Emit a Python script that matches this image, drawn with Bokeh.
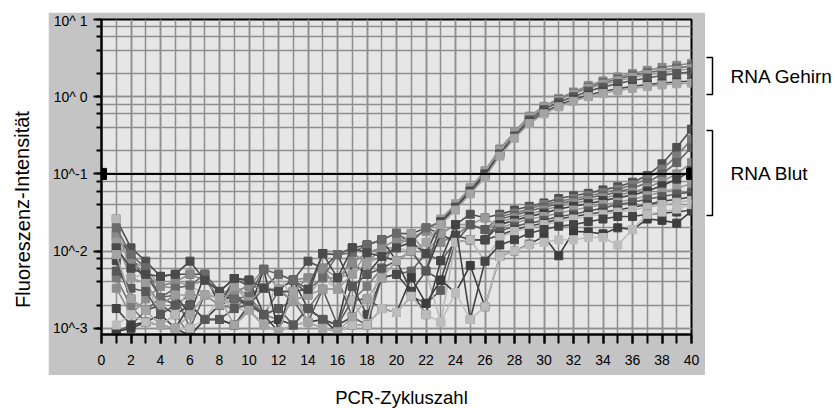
from bokeh.plotting import figure
from bokeh.layouts import row, column
from bokeh.models import (Span, Range1d, Spacer, SingleIntervalTicker, LogTicker,
                          CustomJSTickFormatter)
from bokeh.core.properties import value
from bokeh.embed import file_html
from bokeh.resources import INLINE

# ---------------- data ----------------
cycles = list(range(1, 41))
threshold = 0.1

# RNA Gehirn (brain) curves
brain_1 = [0.016, 0.0075, 0.005, 0.0035, 0.004, 0.005, 0.0042, 0.0025, 0.003, 0.0035,
           0.0033, 0.003, 0.003, 0.0045, 0.006, 0.0045, 0.007, 0.0095, 0.011, 0.014,
           0.015, 0.018, 0.025, 0.040, 0.066, 0.11, 0.21, 0.35, 0.56, 0.75,
           0.95, 1.15, 1.4, 1.6, 1.8, 2.0, 2.2, 2.4, 2.55, 2.7]
brain_2 = [0.02, 0.009, 0.006, 0.0025, 0.0033, 0.0036, 0.005, 0.003, 0.0024, 0.0026,
           0.0058, 0.005, 0.0042, 0.0032, 0.0045, 0.009, 0.0095, 0.012, 0.014, 0.017,
           0.013, 0.02, 0.024, 0.038, 0.062, 0.10, 0.19, 0.33, 0.53, 0.72,
           0.92, 1.1, 1.32, 1.52, 1.7, 1.9, 2.05, 2.2, 2.35, 2.5]
brain_3 = [0.013, 0.0045, 0.0038, 0.002, 0.0027, 0.0027, 0.0027, 0.002, 0.0035, 0.0022,
           0.0033, 0.0032, 0.0023, 0.0027, 0.0032, 0.0032, 0.005, 0.007, 0.0085, 0.011,
           0.0167, 0.0093, 0.026, 0.041, 0.066, 0.11, 0.20, 0.34, 0.54, 0.73,
           0.9, 1.08, 1.28, 1.45, 1.6, 1.78, 1.92, 2.05, 2.2, 2.3]
brain_4 = [0.0055, 0.0033, 0.003, 0.0015, 0.002, 0.002, 0.0013, 0.0013, 0.0018, 0.002,
           0.0015, 0.0018, 0.0011, 0.0018, 0.0013, 0.0011, 0.0035, 0.005, 0.006, 0.0075,
           0.01, 0.0055, 0.023, 0.036, 0.058, 0.095, 0.18, 0.31, 0.5, 0.68,
           0.85, 1.0, 1.18, 1.33, 1.48, 1.62, 1.75, 1.88, 2.0, 2.1]
brain_5 = [0.011, 0.006, 0.005, 0.0047, 0.005, 0.0074, 0.0042, 0.003, 0.0044, 0.0042,
           0.0033, 0.003, 0.003, 0.0032, 0.0093, 0.0045, 0.011, 0.0095, 0.0085, 0.011,
           0.013, 0.0093, 0.024, 0.037, 0.060, 0.10, 0.18, 0.30, 0.47, 0.63,
           0.78, 0.92, 1.05, 1.17, 1.27, 1.36, 1.44, 1.5, 1.55, 1.6]
brain_6 = [0.009, 0.0024, 0.0017, 0.0011, 0.001, 0.0015, 0.0027, 0.0025, 0.0011, 0.0017,
           0.0011, 0.0009, 0.003, 0.0012, 0.001, 0.0009, 0.0014, 0.0024, 0.0045, 0.0075,
           0.01, 0.013, 0.022, 0.034, 0.055, 0.09, 0.17, 0.29, 0.45, 0.6,
           0.74, 0.87, 1.0, 1.1, 1.2, 1.28, 1.35, 1.42, 1.47, 1.5]

# RNA Blut (blood) curves
blood_1 = [0.026, 0.011, 0.0074, 0.0047, 0.005, 0.005, 0.005, 0.003, 0.0044, 0.0035,
           0.0033, 0.005, 0.0042, 0.0074, 0.006, 0.009, 0.011, 0.012, 0.014, 0.017,
           0.0167, 0.02, 0.0167, 0.022, 0.03, 0.027, 0.030, 0.034, 0.038, 0.042,
           0.048, 0.052, 0.056, 0.062, 0.068, 0.078, 0.095, 0.135, 0.22, 0.38]
blood_2 = [0.0045, 0.0019, 0.0012, 0.0011, 0.0015, 0.0008, 0.0013, 0.002, 0.0018, 0.0026,
           0.0015, 0.0013, 0.0023, 0.0018, 0.0032, 0.0032, 0.0023, 0.0035, 0.006, 0.014,
           0.013, 0.0093, 0.013, 0.016, 0.022, 0.019, 0.028, 0.031, 0.035, 0.040,
           0.044, 0.048, 0.052, 0.057, 0.063, 0.072, 0.086, 0.115, 0.17, 0.28]
blood_3 = [0.0009, 0.0011, 0.0017, 0.0025, 0.0027, 0.001, 0.0027, 0.0025, 0.0024, 0.002,
           0.0015, 0.003, 0.0023, 0.0027, 0.0045, 0.0045, 0.0014, 0.0011, 0.0045, 0.005,
           0.0055, 0.0093, 0.0075, 0.013, 0.014, 0.014, 0.026, 0.029, 0.033, 0.037,
           0.041, 0.045, 0.049, 0.053, 0.058, 0.065, 0.077, 0.10, 0.14, 0.22]
blood_4 = [0.0033, 0.0015, 0.0024, 0.0035, 0.0033, 0.0036, 0.0042, 0.003, 0.003, 0.0035,
           0.0058, 0.0032, 0.0042, 0.0045, 0.006, 0.0032, 0.0095, 0.007, 0.011, 0.011,
           0.013, 0.02, 0.013, 0.016, 0.022, 0.019, 0.024, 0.027, 0.030, 0.034,
           0.038, 0.042, 0.045, 0.049, 0.053, 0.058, 0.066, 0.08, 0.10, 0.14]
blood_5 = [0.0018, 0.0011, 0.0012, 0.0015, 0.001, 0.002, 0.0013, 0.002, 0.003, 0.0017,
           0.0011, 0.0013, 0.0011, 0.0018, 0.0013, 0.0011, 0.007, 0.005, 0.0085, 0.0075,
           0.01, 0.0055, 0.0167, 0.013, 0.014, 0.014, 0.022, 0.025, 0.028, 0.031,
           0.035, 0.038, 0.041, 0.045, 0.049, 0.053, 0.060, 0.070, 0.085, 0.11]
blood_6 = [0.013, 0.0075, 0.006, 0.0035, 0.004, 0.0036, 0.0042, 0.0025, 0.0035, 0.0026,
           0.0033, 0.003, 0.003, 0.0032, 0.0045, 0.0045, 0.005, 0.0095, 0.011, 0.011,
           0.0167, 0.0093, 0.0167, 0.022, 0.022, 0.027, 0.020, 0.023, 0.026, 0.028,
           0.031, 0.034, 0.037, 0.040, 0.043, 0.047, 0.052, 0.058, 0.065, 0.075]
blood_7 = [0.011, 0.006, 0.005, 0.0025, 0.002, 0.0027, 0.0027, 0.002, 0.0024, 0.0022,
           0.0015, 0.0018, 0.0023, 0.0012, 0.0032, 0.0011, 0.0023, 0.0024, 0.0018, 0.0016,
           0.0026, 0.0021, 0.0031, 0.013, 0.022, 0.019, 0.018, 0.021, 0.023, 0.025,
           0.028, 0.030, 0.033, 0.036, 0.040, 0.043, 0.047, 0.051, 0.055, 0.058]
blood_8 = [0.016, 0.009, 0.0038, 0.002, 0.0015, 0.002, 0.0013, 0.0013, 0.0011, 0.002,
           0.0033, 0.0032, 0.0042, 0.0027, 0.0093, 0.009, 0.0035, 0.0015, 0.0045, 0.005,
           0.003, 0.0055, 0.0042, 0.016, 0.014, 0.014, 0.016, 0.019, 0.021, 0.023,
           0.026, 0.028, 0.030, 0.032, 0.034, 0.037, 0.040, 0.044, 0.047, 0.05]
blood_9 = [0.026, 0.0045, 0.005, 0.0011, 0.0015, 0.0036, 0.0027, 0.003, 0.0018, 0.0017,
           0.0011, 0.005, 0.0023, 0.0027, 0.0045, 0.0032, 0.0023, 0.0011, 0.0085, 0.011,
           0.01, 0.0055, 0.0012, 0.013, 0.014, 0.0074, 0.015, 0.018, 0.020, 0.022,
           0.024, 0.026, 0.028, 0.030, 0.032, 0.034, 0.037, 0.040, 0.043, 0.045]
blood_10 = [0.0009, 0.001, 0.0012, 0.0011, 0.001, 0.0008, 0.0013, 0.0013, 0.0011, 0.0017,
            0.0058, 0.0009, 0.0011, 0.0012, 0.0013, 0.0009, 0.0011, 0.0011, 0.0018, 0.0016,
            0.0045, 0.0021, 0.0042, 0.0029, 0.0065, 0.0019, 0.0085, 0.010, 0.0123, 0.0155,
            0.0087, 0.018, 0.0177, 0.0167, 0.020, 0.019, 0.026, 0.025, 0.023, 0.033]
blood_11 = [0.0075, 0.0024, 0.0017, 0.002, 0.0027, 0.0015, 0.005, 0.002, 0.0044, 0.0042,
            0.0015, 0.0009, 0.0042, 0.0018, 0.0013, 0.0011, 0.0014, 0.012, 0.014, 0.0075,
            0.003, 0.0015, 0.0075, 0.022, 0.0013, 0.0074, 0.012, 0.014, 0.017, 0.019,
            0.021, 0.022, 0.024, 0.026, 0.028, 0.028, 0.030, 0.031, 0.032, 0.034]
blood_12 = [0.0011, 0.0015, 0.0012, 0.0011, 0.001, 0.001, 0.0013, 0.0025, 0.0018, 0.0017,
            0.0011, 0.0009, 0.0011, 0.0012, 0.001, 0.0009, 0.0011, 0.0011, 0.0018, 0.0016,
            0.0026, 0.0015, 0.0012, 0.0029, 0.0013, 0.0019, 0.0085, 0.010, 0.012, 0.013,
            0.014, 0.014, 0.015, 0.015, 0.012, 0.019, 0.030, 0.032, 0.035, 0.04]

blood_series = [blood_1, blood_2, blood_3, blood_4, blood_5, blood_6,
                blood_7, blood_8, blood_9, blood_10, blood_11, blood_12]
blood_colors = ["#505050", "#7a7a7a", "#646464", "#8c8c8c", "#404040", "#9a9a9a",
                "#5c5c5c", "#484848", "#b8b8b8", "#3c3c3c", "#444444", "#bcbcbc"]
brain_series = [brain_1, brain_2, brain_3, brain_4, brain_5, brain_6]
brain_colors = ["#8a8a8a", "#6a6a6a", "#9c9c9c", "#585858", "#4a4a4a", "#a4a4a4"]

x_tick_interval = 2
y_min, y_max = 0.00083, 10

y_title = "Fluoreszenz-Intensität"
x_title = "PCR-Zykluszahl"
group_labels = ["RNA Gehirn", "RNA Blut"]

FONT = "Liberation Sans"


def pad(width, height):
    """A blank white figure whose data units are canvas pixels (y downwards)."""
    f = figure(width=width, height=height, x_range=Range1d(0, width),
               y_range=Range1d(height, 0), output_backend="svg",
               toolbar_location=None, x_axis_location=None, y_axis_location=None,
               min_border=0, title=None)
    f.grid.visible = False
    f.outline_line_color = None
    f.background_fill_color = "white"
    f.border_fill_color = "white"
    return f


# ---------------- main plot ----------------
p = figure(width=657, height=363, y_axis_type="log",
           x_range=Range1d(0, 40), y_range=Range1d(y_min, y_max),
           output_backend="svg", toolbar_location=None, title=None,
           min_border_left=53, min_border_right=14,
           min_border_top=7, min_border_bottom=41)

p.border_fill_color = "#c4c4c4"
p.background_fill_color = "#e6e6e6"
p.outline_line_color = "black"
p.outline_line_width = 2

p.xaxis.ticker = SingleIntervalTicker(interval=x_tick_interval, num_minor_ticks=2)
p.yaxis.ticker = LogTicker()
p.yaxis.formatter = CustomJSTickFormatter(
    code="const e = Math.round(Math.log10(tick)); return (e >= 0 ? '10^ ' : '10^') + e;")
for ax in (p.xaxis[0], p.yaxis[0]):
    ax.axis_line_color = "black"
    ax.axis_line_width = 2
    ax.major_tick_line_color = "black"
    ax.minor_tick_line_color = "black"
    ax.major_tick_line_width = 2
    ax.minor_tick_line_width = 2
    ax.major_tick_in = 0
    ax.minor_tick_in = 0
    ax.major_label_text_font = FONT
    ax.major_label_text_font_size = "14px"
    ax.major_label_text_color = "black"
p.xaxis.major_tick_out = 9
p.xaxis.minor_tick_out = 9
p.xaxis.major_label_standoff = 11
p.yaxis.major_tick_out = 8
p.yaxis.minor_tick_out = 5
p.yaxis.major_label_standoff = 6

grid_color = "#8e8e8e"
p.xgrid.grid_line_color = grid_color
p.xgrid.grid_line_width = 1.5
p.xgrid.minor_grid_line_color = grid_color
p.xgrid.minor_grid_line_width = 1.5
p.ygrid.grid_line_color = grid_color
p.ygrid.grid_line_width = 1.5
p.ygrid.minor_grid_line_color = grid_color
p.ygrid.minor_grid_line_width = 1.5

for vals, col in list(zip(blood_series, blood_colors)) + list(zip(brain_series, brain_colors)):
    p.line(cycles, vals, line_color=col, line_width=1.6)
    p.scatter(cycles, vals, marker="square", size=8, fill_color=col, line_color=col)

p.add_layout(Span(location=threshold, dimension="width", line_color="black", line_width=2))
p.rect(x=[0, 40], y=[threshold, threshold], width=10, height=11,
       width_units="screen", height_units="screen", fill_color="black", line_color="black")

# ---------------- surrounding white page ----------------
left = pad(48, 408)
left.text(x=[22], y=[209], text=[y_title], angle=1.5708,
          text_align="center", text_baseline="middle",
          text_font=value(FONT), text_font_size="20px", text_color="black")

bottom = pad(657, 33)
bottom.text(x=[334], y=[22], text=[x_title],
            text_align="center", text_baseline="middle",
            text_font=value(FONT), text_font_size="18.5px", text_color="black")

right = pad(130, 408)
for label, top, bot in zip(group_labels, [57, 130], [94, 215]):
    right.line(x=[1, 7, 7, 1], y=[top, top, bot, bot], line_color="black", line_width=1.5)
    right.text(x=[25], y=[(top + bot) / 2], text=[label],
               text_align="left", text_baseline="middle",
               text_font=value(FONT), text_font_size="19px", text_color="black")

layout = row(left, column(Spacer(width=657, height=12), p, bottom, spacing=0),
             right, spacing=0)

open("out.html", "w").write(file_html(layout, INLINE))
